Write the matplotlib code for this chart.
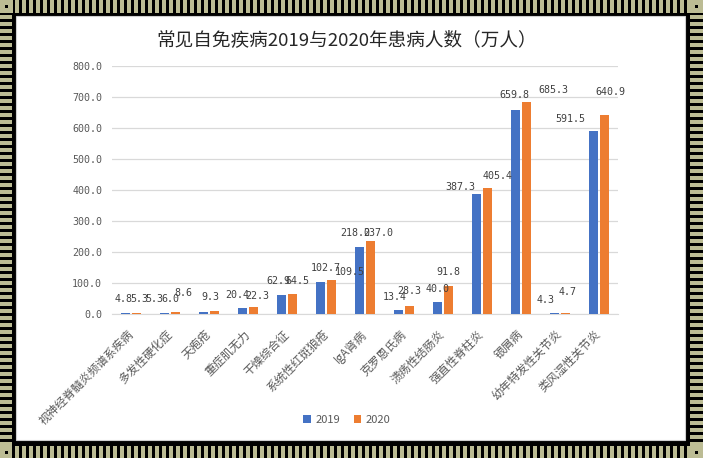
import matplotlib
matplotlib.use("Agg")
import matplotlib.pyplot as plt
from matplotlib.patches import Rectangle
import numpy as np

plt.rcParams['font.family'] = ['Noto Sans CJK SC', 'DejaVu Sans']

categories = ["视神经脊髓炎频谱系疾病", "多发性硬化症", "天疱疮", "重症肌无力", "干燥综合征",
              "系统性红斑狼疮", "IgA肾病", "克罗恩氏病", "溃疡性结肠炎", "强直性脊柱炎",
              "银屑病", "幼年特发性关节炎", "类风湿性关节炎"]
v2019 = [4.8, 5.3, 8.6, 20.4, 62.9, 102.7, 218.0, 13.4, 40.0, 387.3, 659.8, 4.3, 591.5]
v2020 = [5.3, 6.0, 9.3, 22.3, 64.5, 109.5, 237.0, 28.3, 91.8, 405.4, 685.3, 4.7, 640.9]
series_names = ["2019", "2020"]
yticks = [0, 100, 200, 300, 400, 500, 600, 700, 800]
title = "常见自免疾病2019与2020年患病人数（万人）"

# label offsets in pixels (dx, dy above bar top) - styling only
off2019 = [(-2, 13.5), (-11, 13.5), (-20, 18.5), (-5, 13), (-3.6, 14), (5.4, 14.4), (-4.5, 14),
           (-4, 13.6), (0, 13), (-16, 7.4), (-1, 14.5), (-9, 13), (-23, 11.7)]
off2020 = [(2, 13.7), (-5, 13.4), (-4, 14.4), (4, 11), (4.4, 13.6), (18, 8.3), (7.5, 8),
           (0, 14.8), (0, 13.8), (10, 12.5), (27, 11.6), (2, 20.8), (6, 23.7)]

W, H = 703, 458
fig = plt.figure(figsize=(W / 100, H / 100), dpi=100, facecolor='black')

# decorative frame
bg = fig.add_axes([0, 0, 1, 1], zorder=-5)
bg.set_xlim(0, W)
bg.set_ylim(H, 0)
bg.axis('off')
olive = '#bcbc94'
bg.add_patch(Rectangle((0, 0), W, H, color='black'))
bg.add_patch(Rectangle((16, 16), 685 - 16, 440 - 16, facecolor='white', edgecolor='#d0d0d0', lw=0.8))
for xs in np.arange(15, 688, 7):
    bg.add_patch(Rectangle((xs, 0), 4, 13, color=olive, lw=0))
    bg.add_patch(Rectangle((xs, 446), 4, 12, color=olive, lw=0))
for ys in np.arange(15, 444, 7):
    bg.add_patch(Rectangle((0, ys), 12, 4, color=olive, lw=0))
    bg.add_patch(Rectangle((690, ys), 13, 4, color=olive, lw=0))
for (cx, cy, cw, ch) in [(0, 0, 13, 13), (690, 446, 13, 12), (690, 0, 13, 13), (0, 446, 12, 12)]:
    bg.add_patch(Rectangle((cx, cy), cw, ch, color=olive, lw=0))
    bg.add_patch(Rectangle((cx + cw / 2 - 1.5, cy + ch / 2 - 1.5), 3, 3, color='black', lw=0))

# main axes
ax = fig.add_axes([112 / W, 1 - 314.3 / H, (618 - 112) / W, (314.3 - 66) / H])
ax.set_facecolor('none')
x = np.arange(len(categories))
bw = 0.231
dx = 0.141
c19, c20 = '#4472C4', '#ED7D31'
b1 = ax.bar(x - dx, v2019, bw, color=c19, label=series_names[0], zorder=3)
b2 = ax.bar(x + dx, v2020, bw, color=c20, label=series_names[1], zorder=3)

ax.set_xlim(-0.5, len(categories) - 0.5)
ax.set_ylim(0, 800)
ax.set_yticks(yticks)
ax.set_yticklabels([f"{t:.1f}" for t in yticks], family='DejaVu Sans Mono', fontsize=7.2, color='#595959')
ax.grid(axis='y', color='#d9d9d9', lw=0.9, zorder=0)
for s in ['left', 'right', 'top']:
    ax.spines[s].set_visible(False)
ax.spines['bottom'].set_color('#d9d9d9')
ax.tick_params(axis='both', length=0)
ax.tick_params(axis='y', pad=7)
ax.set_xticks(x)
ax.set_xticklabels(categories, rotation=45, ha='right', va='center', rotation_mode='anchor',
                   fontsize=8.4, color='#595959')
ax.tick_params(axis='x', pad=13)

pt = 0.72
for bars, vals, offs in [(b1, v2019, off2019), (b2, v2020, off2020)]:
    for rect, v, (ox, oy) in zip(bars, vals, offs):
        ax.annotate(f"{v:.1f}", (rect.get_x() + rect.get_width() / 2, v),
                    xytext=(ox * pt, oy * pt), textcoords='offset points',
                    ha='center', va='center', family='DejaVu Sans Mono', fontsize=7.2,
                    color='#404040', zorder=5)

fig.text(347 / W, 1 - 40 / H, title, ha='center', va='center', fontsize=13.4, color='#262626')

fig.legend(handles=[b1, b2], labels=series_names, loc='center', bbox_to_anchor=(347 / W, 1 - 420 / H),
           ncol=2, frameon=False, fontsize=8, handlelength=0.7, handleheight=0.7,
           columnspacing=1.2, handletextpad=0.4, labelcolor='#595959')

fig.savefig('out.png', dpi=100, facecolor='black')
